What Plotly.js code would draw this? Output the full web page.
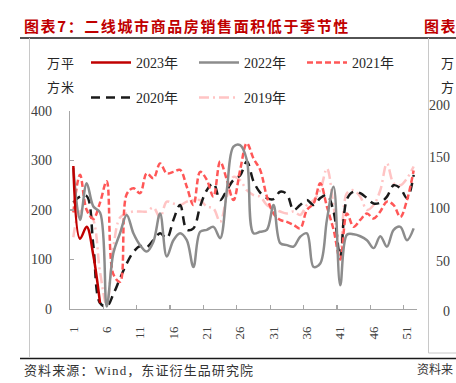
<!DOCTYPE html>
<html>
<head>
<meta charset="utf-8">
<script src="https://cdn.plot.ly/plotly-3.0.1.min.js"></script>
<style>
html,body{margin:0;padding:0;background:#fff;}
#chart{width:456px;height:383px;}
</style>
</head>
<body>
<div id="chart"></div>
<script>
// ---- data ----
const weeks = ["1","2","3","4","5","6","7","8","9","10","11","12","13","14","15","16","17","18","19","20","21","22","23","24","25","26","27","28","29","30","31","32","33","34","35","36","37","38","39","40","41","42","43","44","45","46","47","48","49","50","51","52"];
const y2023 = [289,142,166,108,12];
const y2022 = [285,180,254,207,195,5,113,153,190,153,129,116,136,193,106,139,153,139,85,156,160,166,143,240,328,331,301,153,156,160,210,133,129,126,146,153,85,92,180,247,48,150,151,147,139,123,147,126,160,166,139,163];
const y2021 = [195,271,200,182,215,258,70,55,232,244,234,274,264,294,274,277,281,247,210,277,261,227,298,261,220,281,335,304,281,227,193,180,176,170,163,200,213,254,207,160,100,193,166,180,193,183,197,217,210,186,220,280];
const y2020 = [215,227,228,128,12,5,30,62,92,115,127,125,139,153,143,180,210,160,163,207,240,254,220,240,261,270,298,258,235,224,222,237,232,200,210,220,210,224,230,197,104,222,237,234,224,213,215,227,250,244,224,271];
const y2019 = [145,197,200,180,75,8,125,185,193,197,197,197,205,185,217,213,210,217,220,220,207,203,176,227,267,260,240,230,227,210,203,197,193,197,190,210,220,240,284,207,110,234,240,227,200,210,240,294,254,250,264,288];
const seriesNames = ["2023年","2022年","2021年","2020年","2019年"];
const yTicks = [0,100,200,300,400];
const rightTicks = ["200","150","100","50","0"];
const titleText = "图表7：二线城市商品房销售面积低于季节性";
const sourceText = "资料来源：Wind，东证衍生品研究院";

// ---- layout helpers (pixel -> paper) ----
const L = 70, R = 417, T = 111, B = 309, W = 456, H = 383;
const px = X => (X - L) / (R - L);
const py = Y => (B - Y) / (B - T);
const FONT = "'Liberation Serif', 'Noto Sans CJK SC', serif";

function tr(name, y, color, dash, legend, rank) {
  return {
    x: weeks.slice(0, y.length), y: y, name: name, type: 'scatter', mode: 'lines',
    line: {color: color, width: 2.5, dash: dash, shape: 'spline', smoothing: 1},
    legend: legend, legendrank: rank, hoverinfo: 'skip'
  };
}
const data = [
  tr(seriesNames[4], y2019, '#FFC4C4', '10px,4px,2px,4px', 'legend2', 5),
  tr(seriesNames[3], y2020, '#1A1A1A', '9px,6px', 'legend2', 4),
  tr(seriesNames[2], y2021, '#FF5757', '6px,3px', 'legend', 3),
  tr(seriesNames[1], y2022, '#8C8C8C', 'solid', 'legend', 2),
  tr(seriesNames[0], y2023, '#C00000', 'solid', 'legend', 1)
];

const legFont = {family: FONT, size: 14, color: '#262626'};
const titleFont = {family: "'Noto Sans CJK SC', sans-serif", size: 15, color: '#C00000', weight: 'bold'};
const annotations = [
  {text: titleText, x: px(22), y: py(25), xanchor: 'left', yanchor: 'middle', align: 'left', font: titleFont},
  {text: "图表", x: px(422), y: py(25), xanchor: 'left', yanchor: 'middle', align: 'left', font: titleFont},
  {text: sourceText, x: px(22), y: py(370), xanchor: 'left', yanchor: 'middle', align: 'left', font: {family: FONT, size: 13, color: '#333333'}},
  {text: "资料来", x: px(455), y: py(370), xanchor: 'right', yanchor: 'middle', align: 'right', font: {family: FONT, size: 12, color: '#333333'}},
  {text: "万平", x: px(76), y: py(63), xanchor: 'right', yanchor: 'middle', font: {family: FONT, size: 13, color: '#262626'}},
  {text: "方米", x: px(76), y: py(87), xanchor: 'right', yanchor: 'middle', font: {family: FONT, size: 13, color: '#262626'}},
  {text: "万", x: px(456), y: py(63), xanchor: 'right', yanchor: 'middle', font: {family: FONT, size: 13, color: '#262626'}},
  {text: "方", x: px(456), y: py(87), xanchor: 'right', yanchor: 'middle', font: {family: FONT, size: 13, color: '#262626'}}
];
const rightY = [105, 157, 208, 261, 311];
rightTicks.forEach((t, i) => annotations.push({text: t, x: px(452), y: py(rightY[i]), xanchor: 'right', yanchor: 'middle', font: {family: FONT, size: 14, color: '#404040'}}));
annotations.forEach(a => { a.xref = 'paper'; a.yref = 'paper'; a.showarrow = false; });

const shapes = [
  {type: 'line', x0: px(20), x1: px(456), y0: py(38), y1: py(38), line: {color: '#1A1A1A', width: 1.5}},
  {type: 'line', x0: px(20), x1: px(456), y0: py(358.5), y1: py(358.5), line: {color: '#1A1A1A', width: 1.5}},
  {type: 'line', x0: px(29.5), x1: px(29.5), y0: py(38), y1: py(358), line: {color: '#C8C8C8', width: 1}},
  {type: 'line', x0: px(428.5), x1: px(428.5), y0: py(38), y1: py(353), line: {color: '#C8C8C8', width: 1}},
  {type: 'line', x0: px(428.5), x1: px(456), y0: py(353), y1: py(353), line: {color: '#C8C8C8', width: 1}}
];
shapes.forEach(s => { s.xref = 'paper'; s.yref = 'paper'; s.layer = 'below'; });

const legCommon = {orientation: 'h', xanchor: 'left', yanchor: 'middle', font: legFont,
  bgcolor: 'rgba(0,0,0,0)', itemwidth: 40, entrywidth: 53, entrywidthmode: 'pixels', traceorder: 'normal', itemclick: false};

const layout = {
  width: W, height: H,
  margin: {l: L, r: W - R, t: T, b: H - B, pad: 0},
  paper_bgcolor: '#fff', plot_bgcolor: 'rgba(0,0,0,0)',
  showlegend: true,
  legend: Object.assign({x: px(86), y: py(63)}, legCommon),
  legend2: Object.assign({x: px(86), y: py(98)}, legCommon),
  xaxis: {type: 'category', categoryorder: 'array', categoryarray: weeks, range: [-0.5, 51.5],
          showline: true, linecolor: '#A6A6A6', linewidth: 1.3, showgrid: false, zeroline: false,
          ticks: 'inside', ticklen: 4, tickcolor: '#A6A6A6', tickwidth: 1.3, tickson: 'boundaries',
          tick0: 0, dtick: 5, tickangle: -90, ticklabelstandoff: 11,
          tickfont: {family: FONT, size: 13, color: '#404040'}, fixedrange: true},
  yaxis: {range: [0, 400], tickvals: yTicks, showline: true, linecolor: '#A6A6A6', linewidth: 1.3,
          showgrid: false, zeroline: false, ticks: 'inside', ticklen: 4, tickcolor: '#A6A6A6', tickwidth: 1.3,
          ticklabelstandoff: 14, tickfont: {family: FONT, size: 14, color: '#404040'}, fixedrange: true},
  annotations: annotations, shapes: shapes
};

Plotly.newPlot('chart', data, layout, {staticPlot: true, displayModeBar: false}).then(() => {
  document.querySelectorAll('.annotation-text').forEach(t => {
    const s = t.textContent;
    if (s.indexOf('图表') === 0) t.style.letterSpacing = '1.6px';
    else if (s.indexOf('资料来源') === 0) t.style.letterSpacing = '1.1px';
    else if (s === '万平' || s === '方米') t.style.letterSpacing = '1px';
  });
});
</script>
</body>
</html>
